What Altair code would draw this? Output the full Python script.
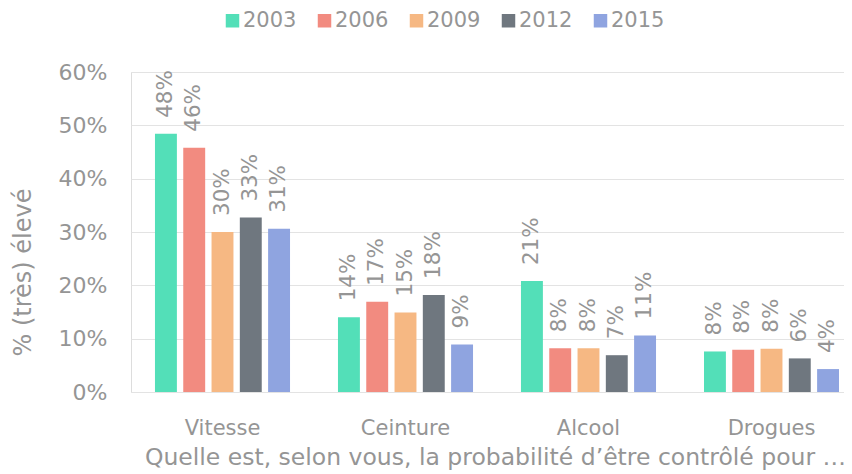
import altair as alt
import pandas as pd

categories = ["Vitesse", "Ceinture", "Alcool", "Drogues"]
years = ["2003", "2006", "2009", "2012", "2015"]
v2003 = [0.484, 0.140, 0.208, 0.076]
v2006 = [0.458, 0.169, 0.082, 0.079]
v2009 = [0.300, 0.149, 0.082, 0.081]
v2012 = [0.327, 0.182, 0.069, 0.063]
v2015 = [0.306, 0.089, 0.106, 0.043]
y_ticks = [0, 0.1, 0.2, 0.3, 0.4, 0.5, 0.6]

series = {"2003": v2003, "2006": v2006, "2009": v2009, "2012": v2012, "2015": v2015}
rows = []
for yr in years:
    for c, v in zip(categories, series[yr]):
        rows.append({"cat": c, "year": yr, "value": v})
df = pd.DataFrame(rows)

palette = ["#53DFB8", "#F28B80", "#F6B883", "#6F777F", "#8FA4E0"]
gray = "#959595"
FONT = "DejaVu Sans"

x_enc = alt.X(
    "cat:N", sort=categories,
    scale=alt.Scale(range=[0, 732], paddingInner=0.262, paddingOuter=0.131),
    axis=alt.Axis(
        title="Quelle est, selon vous, la probabilité d’être contrôlé pour …",
        labelAngle=0, ticks=False, domain=False, labelPadding=25,
        labelFontSize=21, labelColor=gray, labelFont=FONT,
        titleFontSize=23.5, titleColor=gray, titleFont=FONT, titleFontWeight="normal",
        titleBaseline="alphabetic", titleAlign="center", titleY=72, titleX=364,
    ),
)
xo_enc = alt.XOffset("year:N", sort=years, scale=alt.Scale(paddingInner=0.225, paddingOuter=0))
y_enc = alt.Y(
    "value:Q",
    scale=alt.Scale(domain=[0, 0.6], nice=False, zero=True),
    axis=alt.Axis(
        values=y_ticks, format=".0%", title="% (très) élevé",
        ticks=False, domain=False, labelPadding=24,
        labelFontSize=22, labelColor=gray, labelFont=FONT,
        gridColor="#E3E3E3", gridWidth=1,
        titleFontSize=24, titleColor=gray, titleFont=FONT, titleFontWeight="normal",
        titleAngle=270, titleAlign="center", titleBaseline="middle",
        titleX=-108, titleY=200,
    ),
)

bars = alt.Chart(df).mark_bar().encode(
    x=x_enc, xOffset=xo_enc, y=y_enc,
    color=alt.Color(
        "year:N", sort=years,
        scale=alt.Scale(domain=years, range=palette),
        legend=alt.Legend(
            orient="none", direction="horizontal", legendX=91, legendY=-62,
            title=None, symbolType="square", symbolSize=182, symbolStrokeWidth=0,
            labelFontSize=21, labelColor=gray, labelFont=FONT, labelOffset=0,
            columnPadding=17, padding=0,
        ),
    ),
)

labels = alt.Chart(df).mark_text(
    angle=270, align="left", baseline="middle", dx=16,
    fontSize=21.5, color=gray, font=FONT,
).encode(
    x=x_enc, xOffset=xo_enc, y=y_enc,
    text=alt.Text("value:Q", format=".0%"),
)

chart = alt.layer(bars, labels).properties(
    width=713, height=320,
    autosize=alt.AutoSizeParams(type="none"),
    padding={"left": 123, "top": 64, "right": 0, "bottom": 82},
).configure_view(stroke=None).configure(font=FONT)

chart.save("out.html", embed_options={"renderer": "svg", "actions": False})
